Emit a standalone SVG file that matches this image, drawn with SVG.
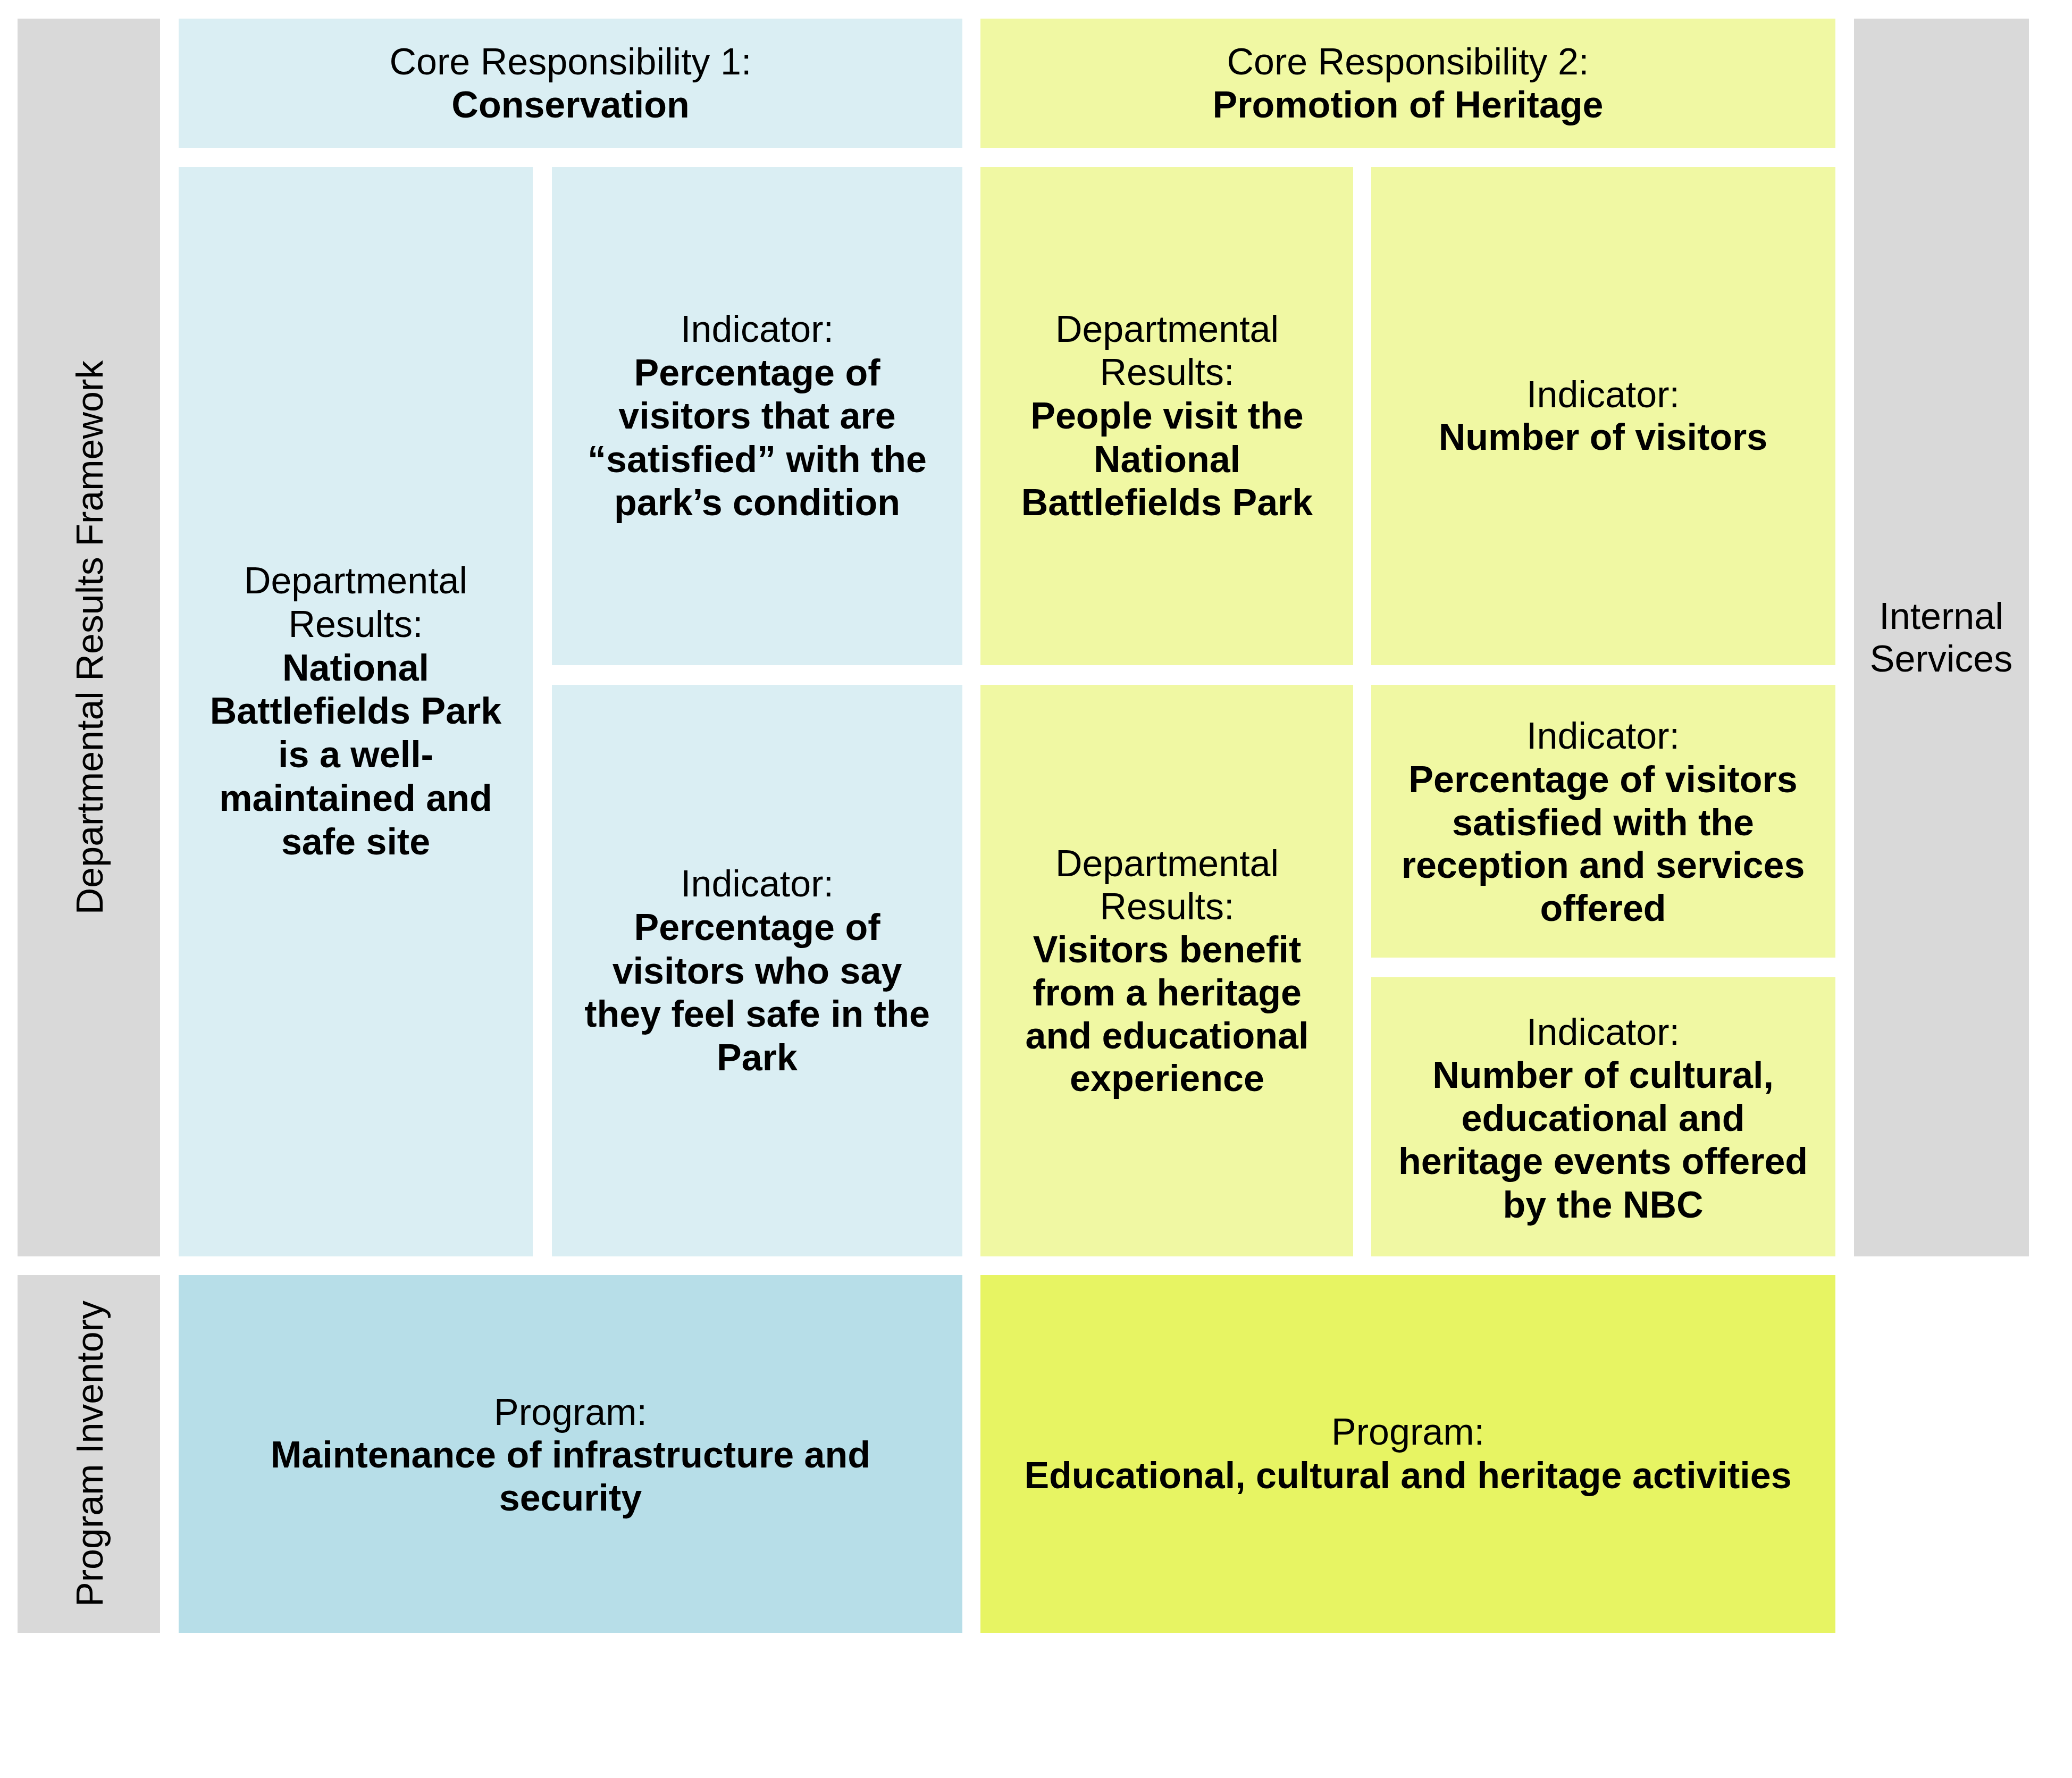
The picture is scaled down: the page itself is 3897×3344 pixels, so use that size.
<svg xmlns="http://www.w3.org/2000/svg" width="3897" height="3344" viewBox="0 0 3897 3344">
<style>
.gray{fill:#D9D9D9}
.lb{fill:#DAEEF3}
.ly{fill:#F0F8A3}
.pb{fill:#B7DEE8}
.py{fill:#E7F463}
text{font-family:"Liberation Sans",Arial,sans-serif;font-size:70px;fill:#000;text-anchor:middle}
.b{font-weight:bold}
</style>
<rect width="3897" height="3344" fill="#FFFFFF"/>
<g id="drf-label">
<rect class="gray" x="33" y="35" width="268" height="2328"/>
<text transform="translate(193,1199) rotate(-90)">Departmental Results Framework</text>
</g>
<g id="pi-label">
<rect class="gray" x="33" y="2398" width="268" height="673"/>
<text transform="translate(193,2734) rotate(-90)">Program Inventory</text>
</g>
<g id="internal-services">
<rect class="gray" x="3487" y="35" width="329" height="2328"/>
<text x="3651" y="1183">Internal</text>
<text x="3651" y="1263">Services</text>
</g>
<g id="core1">
<rect class="lb" x="336" y="35" width="1474" height="243"/>
<text x="1073" y="140">Core Responsibility 1:</text>
<text class="b" x="1073" y="221">Conservation</text>
</g>
<g id="core2">
<rect class="ly" x="1844" y="35" width="1608" height="243"/>
<text x="2648" y="140">Core Responsibility 2:</text>
<text class="b" x="2648" y="221">Promotion of Heritage</text>
</g>
<g id="dr-conservation">
<rect class="lb" x="336" y="314" width="666" height="2049"/>
<text x="669" y="1116">Departmental</text>
<text x="669" y="1198">Results:</text>
<text class="b" x="669" y="1280">National</text>
<text class="b" x="669" y="1361">Battlefields Park</text>
<text class="b" x="669" y="1443">is a well-</text>
<text class="b" x="669" y="1525">maintained and</text>
<text class="b" x="669" y="1607">safe site</text>
</g>
<g id="ind-satisfied-condition">
<rect class="lb" x="1038" y="314" width="772" height="937"/>
<text x="1424" y="643">Indicator:</text>
<text class="b" x="1424" y="725">Percentage of</text>
<text class="b" x="1424" y="806">visitors that are</text>
<text class="b" x="1424" y="888">“satisfied” with the</text>
<text class="b" x="1424" y="969">park’s condition</text>
</g>
<g id="ind-feel-safe">
<rect class="lb" x="1038" y="1288" width="772" height="1075"/>
<text x="1424" y="1686">Indicator:</text>
<text class="b" x="1424" y="1768">Percentage of</text>
<text class="b" x="1424" y="1850">visitors who say</text>
<text class="b" x="1424" y="1931">they feel safe in the</text>
<text class="b" x="1424" y="2013">Park</text>
</g>
<g id="dr-people-visit">
<rect class="ly" x="1844" y="314" width="701" height="937"/>
<text x="2195" y="643">Departmental</text>
<text x="2195" y="724">Results:</text>
<text class="b" x="2195" y="806">People visit the</text>
<text class="b" x="2195" y="888">National</text>
<text class="b" x="2195" y="969">Battlefields Park</text>
</g>
<g id="ind-number-visitors">
<rect class="ly" x="2579" y="314" width="873" height="937"/>
<text x="3015" y="766">Indicator:</text>
<text class="b" x="3015" y="846">Number of visitors</text>
</g>
<g id="dr-visitors-benefit">
<rect class="ly" x="1844" y="1288" width="701" height="1075"/>
<text x="2195" y="1648">Departmental</text>
<text x="2195" y="1729">Results:</text>
<text class="b" x="2195" y="1810">Visitors benefit</text>
<text class="b" x="2195" y="1891">from a heritage</text>
<text class="b" x="2195" y="1972">and educational</text>
<text class="b" x="2195" y="2052">experience</text>
</g>
<g id="ind-reception">
<rect class="ly" x="2579" y="1288" width="873" height="513"/>
<text x="3015" y="1408">Indicator:</text>
<text class="b" x="3015" y="1490">Percentage of visitors</text>
<text class="b" x="3015" y="1571">satisfied with the</text>
<text class="b" x="3015" y="1651">reception and services</text>
<text class="b" x="3015" y="1732">offered</text>
</g>
<g id="ind-events">
<rect class="ly" x="2579" y="1838" width="873" height="525"/>
<text x="3015" y="1965">Indicator:</text>
<text class="b" x="3015" y="2046">Number of cultural,</text>
<text class="b" x="3015" y="2127">educational and</text>
<text class="b" x="3015" y="2208">heritage events offered</text>
<text class="b" x="3015" y="2290">by the NBC</text>
</g>
<g id="program-maintenance">
<rect class="pb" x="336" y="2398" width="1474" height="673"/>
<text x="1073" y="2680">Program:</text>
<text class="b" x="1073" y="2760">Maintenance of infrastructure and</text>
<text class="b" x="1073" y="2841">security</text>
</g>
<g id="program-activities">
<rect class="py" x="1844" y="2398" width="1608" height="673"/>
<text x="2648" y="2717">Program:</text>
<text class="b" x="2648" y="2799">Educational, cultural and heritage activities</text>
</g>
<g id="connectors"></g>
</svg>
